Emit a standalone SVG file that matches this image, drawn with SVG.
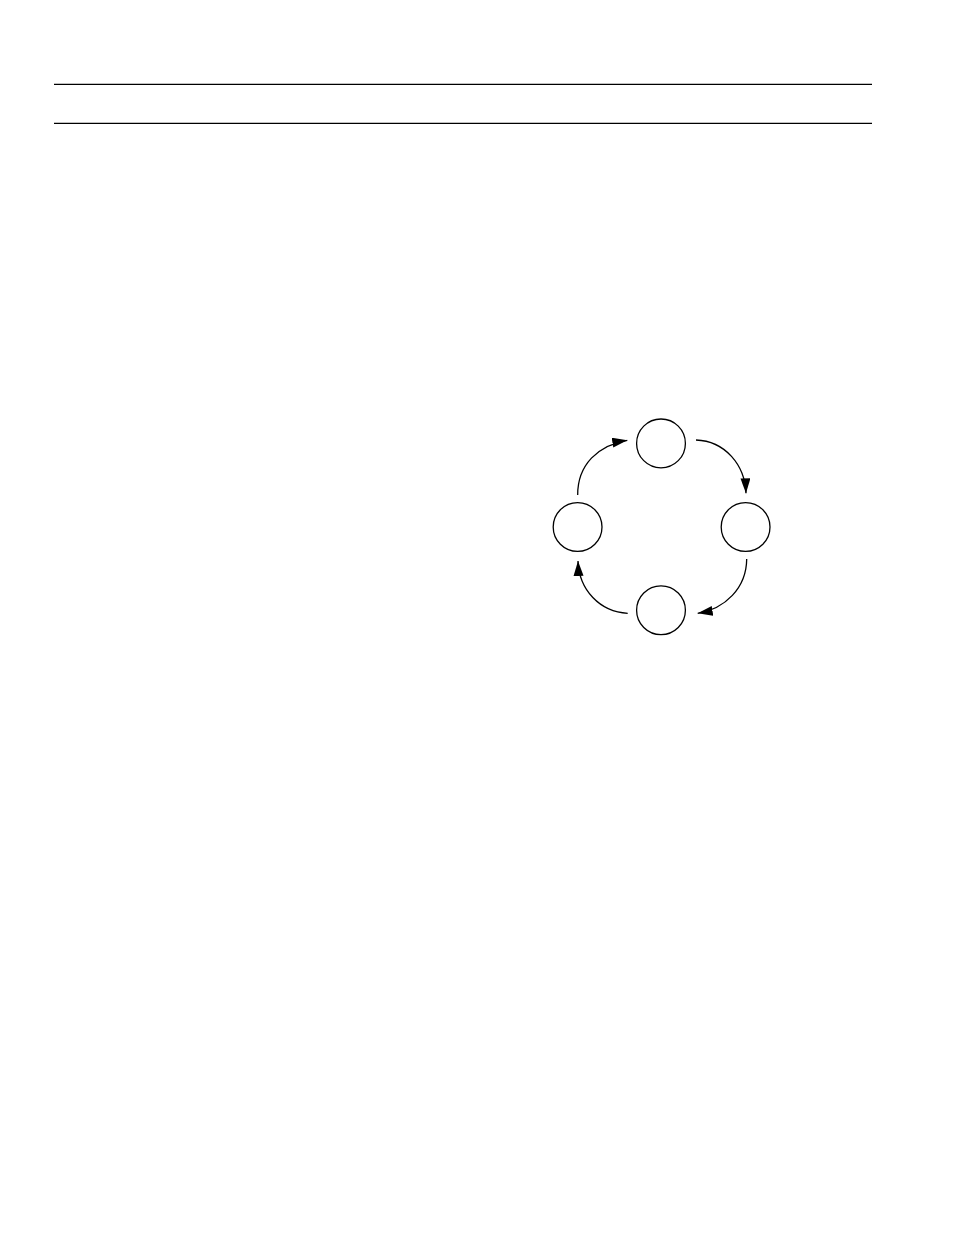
<svg xmlns="http://www.w3.org/2000/svg" width="954" height="1235" viewBox="0 0 954 1235">
<style>
.rule{stroke:#000;stroke-width:1.3;fill:none}
.node{fill:#fff;stroke:#000;stroke-width:1.3}
.edge{fill:none;stroke:#000;stroke-width:1.3;marker-end:url(#arr)}
</style>
<defs>
<marker id="arr" markerUnits="userSpaceOnUse" markerWidth="16" markerHeight="11" refX="15" refY="5" orient="auto" viewBox="0 0 16 11">
<path d="M0,0 L15,5 L0,10 z" fill="#000"/>
</marker>
</defs>
<rect width="954" height="1235" fill="#fff"/>
<g id="rules">
<line class="rule" x1="54" y1="84.3" x2="872" y2="84.3"/>
<line class="rule" x1="54" y1="123.3" x2="872" y2="123.3"/>
</g>
<g id="connectors">
<path class="edge" d="M577.7,495 C577.5,465 598,445 627.3,440.3"/>
<path class="edge" d="M696,440 C725,441 745,465 746,493.3"/>
<path class="edge" d="M746.7,559 C746.5,588 725,609 697.7,613.3"/>
<path class="edge" d="M627.7,613.3 C600,612 579,590 578,561"/>
</g>
<g id="node-top"><circle class="node" cx="661" cy="443.4" r="24.4"/></g>
<g id="node-right"><circle class="node" cx="745.6" cy="527" r="24.4"/></g>
<g id="node-bottom"><circle class="node" cx="661" cy="610.3" r="24.4"/></g>
<g id="node-left"><circle class="node" cx="577.6" cy="527" r="24.4"/></g>
</svg>
